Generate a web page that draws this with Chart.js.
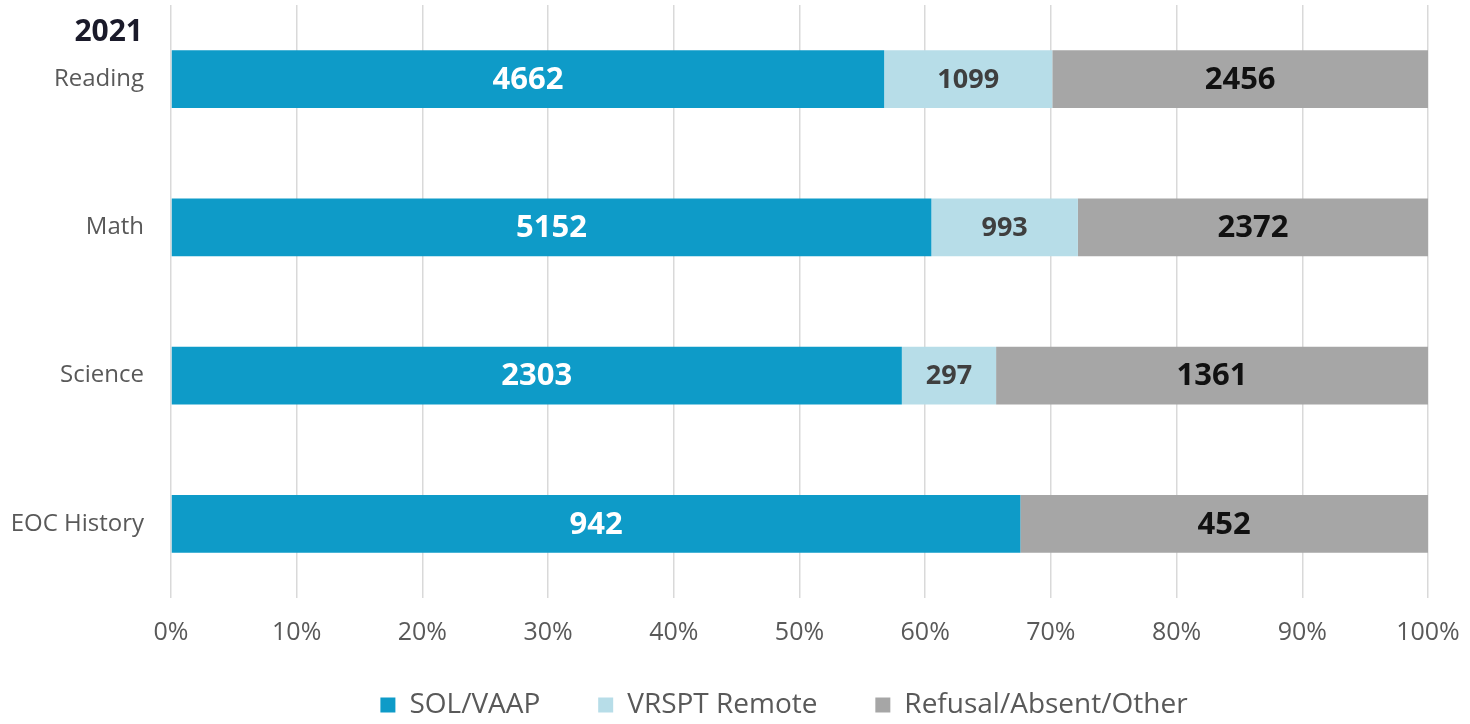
<!DOCTYPE html>
<html lang="en">
<head>
    <meta charset="UTF-8">
    <title>2021 Test Participation</title>
    <style>
        body { margin: 0; background: #fff; }
        #wrap { position: relative; width: 1470px; height: 724px; }
        #year {
            position: absolute; right: calc(1470px - 143px); top: 9px;
            font: bold 30px "Open Sans", sans-serif; color: #1a1a2a;
        }
    </style>
</head>
<body>
    <div id="wrap">
        <canvas id="myChart"></canvas>
        <div id="year">2021</div>
    </div>
    <script src="https://cdn.jsdelivr.net/npm/chart.js"></script>
    <script>
        // counts
        var subjects = ['Reading', 'Math', 'Science', 'EOC History'];
        var solVaap = [4662, 5152, 2303, 942];
        var vrsptRemote = [1099, 993, 297, 0];
        var refusalOther = [2456, 2372, 1361, 452];
        var seriesNames = ['SOL/VAAP', 'VRSPT Remote', 'Refusal/Absent/Other'];
        var xTicks = [0, 10, 20, 30, 40, 50, 60, 70, 80, 90, 100];

        var counts = [solVaap, vrsptRemote, refusalOther];
        var colors = ['#0e9bc8', '#b7dde8', '#a6a6a6'];
        var labelColors = ['#ffffff', '#3f3f3f', '#111111'];
        var labelSizes = [31, 27, 31];

        var totals = subjects.map(function (s, i) {
            return solVaap[i] + vrsptRemote[i] + refusalOther[i];
        });
        function pct(arr) {
            return arr.map(function (v, i) { return v / totals[i] * 100; });
        }

        // write the raw counts in the middle of each segment
        var barLabels = {
            id: 'barLabels',
            afterDatasetsDraw: function (chart) {
                var ctx = chart.ctx;
                chart.data.datasets.forEach(function (ds, d) {
                    var meta = chart.getDatasetMeta(d);
                    meta.data.forEach(function (bar, i) {
                        var v = counts[d][i];
                        if (!v) return;
                        ctx.save();
                        ctx.font = 'bold ' + labelSizes[d] + 'px "Open Sans", sans-serif';
                        ctx.fillStyle = labelColors[d];
                        ctx.textAlign = 'center';
                        ctx.textBaseline = 'middle';
                        ctx.fillText(String(v), (bar.x + bar.base) / 2, bar.y + 1);
                        ctx.restore();
                    });
                });
            }
        };

        // the legend in the original sits a bit right of centre
        var legendShift = {
            id: 'legendShift',
            afterLayout: function (chart) {
                chart.legend.left += 70;
                chart.legend.right += 70;
            }
        };

        var ctx = document.getElementById('myChart').getContext('2d');
        var myChart = new Chart(ctx, {
            type: 'bar',
            data: {
                labels: subjects,
                datasets: counts.map(function (arr, d) {
                    return {
                        label: seriesNames[d],
                        data: pct(arr),
                        backgroundColor: colors[d],
                        borderWidth: 0,
                        categoryPercentage: 1,
                        barPercentage: 0.39
                    };
                })
            },
            options: {
                indexAxis: 'y',
                responsive: true,
                maintainAspectRatio: false,
                animation: false,
                layout: { padding: { top: 5, right: 42, left: 0, bottom: -5 } },
                scales: {
                    x: {
                        stacked: true,
                        min: 0,
                        max: 100,
                        afterBuildTicks: function (scale) {
                            scale.ticks = xTicks.map(function (v) { return { value: v }; });
                        },
                        afterFit: function (scale) {
                            scale.height = 57;
                            scale.paddingLeft = 0;
                            scale.paddingRight = 0;
                        },
                        grid: { color: '#d9d9d9', lineWidth: 1.5, drawTicks: false },
                        border: { display: false },
                        ticks: {
                            padding: 20,
                            color: '#595959',
                            font: { family: 'Open Sans', size: 25 },
                            callback: function (v) { return v + '%'; }
                        }
                    },
                    y: {
                        stacked: true,
                        afterFit: function (scale) {
                            scale.width = 171;
                            scale.paddingTop = 0;
                            scale.paddingBottom = 0;
                        },
                        grid: { display: false },
                        border: { display: false },
                        ticks: {
                            padding: 19,
                            color: '#595959',
                            font: { family: 'Open Sans', size: 24 }
                        }
                    }
                },
                plugins: {
                    legend: {
                        position: 'bottom',
                        labels: {
                            boxWidth: 15,
                            boxHeight: 15,
                            padding: 36,
                            color: '#595959',
                            font: { family: 'Open Sans', size: 28 },
                            // a little extra room between the legend entries
                            generateLabels: function (chart) {
                                var items = Chart.defaults.plugins.legend.labels.generateLabels(chart);
                                items.forEach(function (it, k) {
                                    if (k < items.length - 1) it.text = it.text + '   ';
                                });
                                return items;
                            }
                        }
                    },
                    tooltip: { enabled: false }
                }
            },
            plugins: [barLabels, legendShift]
        });
    </script>
</body>
</html>
